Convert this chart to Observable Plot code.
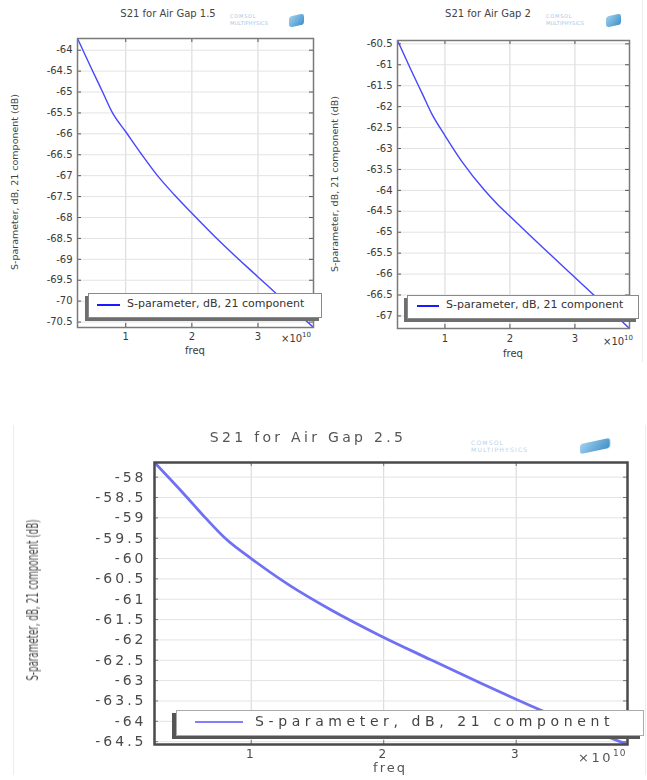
<!DOCTYPE html>
<html><head><meta charset="utf-8">
<script src="https://cdn.jsdelivr.net/npm/d3@7"></script>
<script src="https://cdn.jsdelivr.net/npm/@observablehq/plot@0.6"></script>
<style>
body{margin:0;background:#fff;}
#root{position:relative;width:647px;height:780px;overflow:hidden;background:#fff;font-family:"DejaVu Sans",sans-serif;color:#333;}
.abs{position:absolute;white-space:nowrap;}
.ctr{transform:translate(-50%,-50%);}
.legend{position:absolute;background:#fff;border:1px solid #8a8a8a;}
.legline{position:absolute;}
.legtext{position:absolute;white-space:nowrap;}
.logo1{position:absolute;color:#a9c6e2;white-space:nowrap;line-height:1;}
.cube{position:absolute;border-radius:3px;background:linear-gradient(135deg,#9fd0ee,#3f8fc8);transform:skewY(-12deg);}
</style></head><body><div id="root"></div>
<script>
// ---- data (freq in units of 1e10 Hz, S21 in dB) ----
const freqGap15 = [0.27, 0.47, 0.65, 0.80, 1.00, 1.23, 1.48, 1.73, 1.99, 2.44, 3.00, 3.25, 3.84];
const s21Gap15  = [-63.72, -64.40, -65.00, -65.50, -65.95, -66.47, -67.00, -67.45, -67.88, -68.60, -69.42, -69.78, -70.63];

const freqGap2 = [0.27, 0.48, 0.66, 0.80, 1.00, 1.27, 1.60, 1.80, 2.00, 2.29, 2.60, 3.00, 3.22, 3.84];
const s21Gap2  = [-60.42, -61.13, -61.72, -62.18, -62.69, -63.33, -63.98, -64.32, -64.62, -65.05, -65.50, -66.08, -66.40, -67.30];

const freqGap25 = [0.27, 0.48, 0.66, 0.81, 1.00, 1.29, 1.59, 1.97, 2.35, 2.73, 3.21, 3.84];
const s21Gap25  = [-57.64, -58.37, -59.02, -59.52, -60.00, -60.66, -61.24, -61.89, -62.48, -63.06, -63.76, -64.57];

const xTicks = [1, 2, 3];
const yTicksGap15 = [-64, -64.5, -65, -65.5, -66, -66.5, -67, -67.5, -68, -68.5, -69, -69.5, -70, -70.5];
const yTicksGap2  = [-60.5, -61, -61.5, -62, -62.5, -63, -63.5, -64, -64.5, -65, -65.5, -66, -66.5, -67];
const yTicksGap25 = [-58, -58.5, -59, -59.5, -60, -60.5, -61, -61.5, -62, -62.5, -63, -63.5, -64, -64.5];

const titles = ["S21 for Air Gap 1.5", "S21 for Air Gap 2", "S21 for Air Gap 2.5"];
const yLabel = "S-parameter, dB, 21 component (dB)";
const xLabel = "freq";
const legendLabel = "S-parameter, dB, 21 component";
const xExponent = "10";

const root = document.getElementById("root");

function el(cls, css, text) {
  const d = document.createElement("div");
  d.className = cls;
  Object.assign(d.style, css);
  if (text != null) d.textContent = text;
  root.appendChild(d);
  return d;
}

function panel(o) {
  const data = o.freq.map((f, i) => ({f, v: o.s21[i]}));
  const iw = o.width - o.ml - o.mr, ih = o.height - o.mt - o.mb;
  const fmt = d => String(d);
  const svg = Plot.plot({
    width: o.width, height: o.height,
    marginLeft: o.ml, marginRight: o.mr, marginTop: o.mt, marginBottom: o.mb,
    style: {background: "transparent", overflow: "visible", fontFamily: "DejaVu Sans, sans-serif",
            fontSize: o.tickFont + "px", color: o.tickColor, letterSpacing: o.tickSpacing || "0px"},
    x: {domain: d3.extent(o.freq), label: null},
    y: {domain: d3.extent(o.s21), label: null},
    marks: [
      Plot.gridX(xTicks, {stroke: "#d6d6d6", strokeOpacity: 1}),
      Plot.gridY(o.yTicks, {stroke: "#e3e3e3", strokeOpacity: 1}),
      Plot.line(data, {x: "f", y: "v", stroke: o.lineColor, strokeWidth: o.lineWidth, curve: "monotone-x", clip: true}),
      Plot.ruleY(o.yTicks, {stroke: o.tickStroke, insetRight: iw - 4}),
      Plot.ruleY(o.yTicks, {stroke: o.tickStroke, insetLeft: iw - 4}),
      Plot.ruleX(xTicks, {stroke: o.tickStroke, insetBottom: ih - 4}),
      Plot.ruleX(xTicks, {stroke: o.tickStroke, insetTop: ih - 4}),
      Plot.frame({stroke: o.frameColor, strokeWidth: o.frameWidth}),
      Plot.axisX(xTicks, {tickSize: 0, tickPadding: o.xPad, tickFormat: fmt, label: null, fontSize: o.xTickFont}),
      Plot.axisY(o.yTicks, {tickSize: 0, tickPadding: o.yPad, tickFormat: fmt, label: null})
    ]
  });
  const wrap = document.createElement("div");
  wrap.style.position = "absolute";
  wrap.style.left = o.left + "px";
  wrap.style.top = o.top + "px";
  if (o.blur) wrap.style.filter = "blur(" + o.blur + ")";
  wrap.appendChild(svg);
  root.appendChild(wrap);
}

// faint image borders
el("abs", {left: "642px", top: "0px", width: "1px", height: "362px", background: "#ececec"});
el("abs", {left: "13px", top: "425px", width: "1px", height: "350px", background: "#ececec"});
el("abs", {left: "645px", top: "425px", width: "1px", height: "350px", background: "#ececec"});

// ---------- Top-left: Air gap 1.5 ----------
panel({freq: freqGap15, s21: s21Gap15, yTicks: yTicksGap15, left: 0, top: 30, width: 325, height: 320,
  ml: 77, mr: 12, mt: 8, mb: 23, tickFont: 10, xTickFont: 10, tickColor: "#3a3a3a", xPad: 5, yPad: 5,
  lineColor: "#4646ff", lineWidth: 1.4, tickStroke: "#555", frameColor: "#7a7a7a", frameWidth: 1.5});
el("abs ctr", {left: "168px", top: "13px", fontSize: "10px", color: "#444"}, titles[0]);
el("abs ctr", {left: "14px", top: "182px", fontSize: "9.5px", color: "#444", transform: "translate(-50%,-50%) rotate(-90deg)"}, yLabel);
el("abs ctr", {left: "195px", top: "350px", fontSize: "10px", color: "#3a3a3a"}, xLabel);
{
  const t = el("abs", {left: "281px", top: "331px", fontSize: "10px", color: "#3a3a3a"}, "×10");
  const s = document.createElement("span"); s.textContent = xExponent;
  Object.assign(s.style, {fontSize: "7px", verticalAlign: "5px"}); t.appendChild(s);
}
el("legend", {left: "88px", top: "293px", width: "232px", height: "23px", boxShadow: "-3px 3px 0 #6e6e6e"});
el("legline", {left: "97px", top: "304px", width: "23px", height: "2px", background: "#1a1aff"});
el("legtext", {left: "127px", top: "297px", fontSize: "11px", color: "#333"}, legendLabel);
el("logo1", {left: "230px", top: "14px", fontSize: "5px", letterSpacing: "0.8px"}, "COMSOL");
el("logo1", {left: "230px", top: "21px", fontSize: "5px", letterSpacing: "0.2px"}, "MULTIPHYSICS");
el("cube", {left: "289px", top: "15px", width: "15px", height: "11px"});

// ---------- Top-right: Air gap 2 ----------
panel({freq: freqGap2, s21: s21Gap2, yTicks: yTicksGap2, left: 322, top: 30, width: 325, height: 320,
  ml: 75, mr: 18, mt: 10, mb: 22, tickFont: 10, xTickFont: 10, tickColor: "#3a3a3a", xPad: 6, yPad: 5,
  lineColor: "#4646ff", lineWidth: 1.4, tickStroke: "#555", frameColor: "#7a7a7a", frameWidth: 1.5});
el("abs ctr", {left: "488px", top: "13px", fontSize: "10px", color: "#444"}, titles[1]);
el("abs ctr", {left: "334px", top: "184px", fontSize: "9.5px", color: "#444", transform: "translate(-50%,-50%) rotate(-90deg)"}, yLabel);
el("abs ctr", {left: "513px", top: "353px", fontSize: "10px", color: "#3a3a3a"}, xLabel);
{
  const t = el("abs", {left: "603px", top: "334px", fontSize: "10px", color: "#3a3a3a"}, "×10");
  const s = document.createElement("span"); s.textContent = xExponent;
  Object.assign(s.style, {fontSize: "7px", verticalAlign: "5px"}); t.appendChild(s);
}
el("legend", {left: "407px", top: "295px", width: "230px", height: "22px", boxShadow: "-3px 3px 0 #6e6e6e"});
el("legline", {left: "417px", top: "305px", width: "22px", height: "2px", background: "#1a1aff"});
el("legtext", {left: "446px", top: "298px", fontSize: "11px", color: "#333"}, legendLabel);
el("logo1", {left: "546px", top: "14px", fontSize: "5px", letterSpacing: "0.8px"}, "COMSOL");
el("logo1", {left: "546px", top: "21px", fontSize: "5px", letterSpacing: "0.2px"}, "MULTIPHYSICS");
el("cube", {left: "606px", top: "15px", width: "15px", height: "11px"});

// ---------- Bottom: Air gap 2.5 ----------
panel({freq: freqGap25, s21: s21Gap25, yTicks: yTicksGap25, left: 0, top: 440, width: 647, height: 340,
  ml: 154, mr: 20, mt: 22, mb: 36, tickFont: 14, xTickFont: 12, tickColor: "#4a4a4a", tickSpacing: "3px", xPad: 5, yPad: 8,
  lineColor: "#7070f4", lineWidth: 2.8, tickStroke: "#777", frameColor: "#4a4a4a", frameWidth: 2.5, blur: "0.45px"});
el("abs ctr", {left: "308px", top: "437px", fontSize: "14px", color: "#555", letterSpacing: "3.3px", filter: "blur(0.45px)"}, titles[2]);
el("abs ctr", {left: "33px", top: "600px", fontSize: "15px", color: "#4a4a4a", filter: "blur(0.5px)", transform: "translate(-50%,-50%) rotate(-90deg) scaleX(0.58)"}, yLabel);
el("abs ctr", {left: "390px", top: "767px", fontSize: "13px", color: "#555", letterSpacing: "2px", filter: "blur(0.45px)"}, xLabel);
{
  const t = el("abs", {left: "578px", top: "748px", fontSize: "13px", color: "#555", letterSpacing: "2.5px", filter: "blur(0.45px)"}, "×10");
  const s = document.createElement("span"); s.textContent = xExponent;
  Object.assign(s.style, {fontSize: "9px", verticalAlign: "6px", letterSpacing: "1px"}); t.appendChild(s);
}
el("legend", {left: "176px", top: "710px", width: "466px", height: "24px", boxShadow: "-4px 3px 0 #555", borderColor: "#aaa", filter: "blur(0.4px)"});
el("legline", {left: "195px", top: "721px", width: "48px", height: "2px", background: "#8080ff"});
el("legtext", {left: "255px", top: "713px", fontSize: "14px", color: "#444", letterSpacing: "4.6px", filter: "blur(0.45px)"}, legendLabel);
el("logo1", {left: "471px", top: "440px", fontSize: "6px", letterSpacing: "1.2px", color: "#b8d2ea"}, "COMSOL");
el("logo1", {left: "471px", top: "447px", fontSize: "6px", letterSpacing: "1.2px", color: "#b8d2ea"}, "MULTIPHYSICS");
el("cube", {left: "580px", top: "441px", width: "30px", height: "10px", filter: "blur(0.6px)"});
</script>
</body></html>
